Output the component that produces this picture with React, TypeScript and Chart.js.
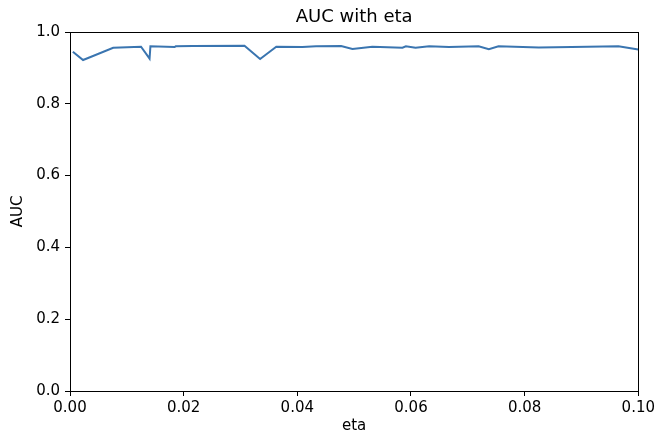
import React, { useEffect, useRef } from "react";
import { Chart, registerables } from "chart.js";

Chart.register(...registerables);

const etaValues = [
  0.0005, 0.0023, 0.0034, 0.0076, 0.0125, 0.0140, 0.01415, 0.0184, 0.0186, 0.0216,
  0.0307, 0.03345, 0.0363, 0.0409, 0.0433, 0.0477, 0.0497, 0.0532, 0.0585, 0.0591,
  0.0608, 0.0632, 0.0667, 0.0719, 0.0737, 0.0754, 0.0825, 0.0883, 0.0965, 0.1,
];
const aucValues = [
  0.945, 0.922, 0.929, 0.956, 0.959, 0.926, 0.960, 0.958, 0.960, 0.961,
  0.962, 0.925, 0.959, 0.958, 0.960, 0.961, 0.953, 0.959, 0.956, 0.960,
  0.956, 0.960, 0.958, 0.960, 0.952, 0.960, 0.957, 0.958, 0.960, 0.951,
];
const xTickStep = 0.02;
const yTickStep = 0.2;

const FONT = "'DejaVu Sans', sans-serif";

const framePlugin = {
  id: "frame",
  afterDatasetsDraw(chart: any) {
    const { ctx, chartArea } = chart;
    ctx.save();
    ctx.strokeStyle = "#000";
    ctx.lineWidth = 1;
    ctx.strokeRect(
      Math.round(chartArea.left) + 0.5,
      Math.round(chartArea.top) + 0.5,
      Math.round(chartArea.right - chartArea.left),
      Math.round(chartArea.bottom - chartArea.top)
    );
    ctx.restore();
  },
};

export default function App() {
  const ref = useRef<HTMLCanvasElement | null>(null);
  useEffect(() => {
    document.body.style.margin = "0";
    const canvas = ref.current;
    if (!canvas) return;
    const chart = new Chart(canvas, {
      type: "line",
      data: {
        datasets: [
          {
            data: etaValues.map((x, i) => ({ x, y: aucValues[i] })),
            borderColor: "#3a75b0",
            borderWidth: 2,
            pointRadius: 0,
            fill: false,
            tension: 0,
          },
        ],
      },
      options: {
        animation: false,
        responsive: false,
        devicePixelRatio: 1,
        layout: { padding: { left: 0, right: 18, top: 0, bottom: 0 } },
        plugins: {
          legend: { display: false },
          tooltip: { enabled: false },
          title: {
            display: true,
            fullSize: false,
            text: "AUC with eta",
            color: "#000",
            font: { family: FONT, size: 18, weight: "normal" },
            padding: { top: 7, bottom: 3.4 },
          },
        },
        scales: {
          x: {
            type: "linear",
            min: 0,
            max: 0.1,
            grid: { display: true, drawOnChartArea: false, drawTicks: true, tickLength: 5, color: "#000" },
            border: { display: true, color: "#000", width: 1 },
            ticks: {
              stepSize: xTickStep,
              color: "#000",
              font: { family: FONT, size: 15 },
              padding: 3,
              maxRotation: 0,
              callback: (v: any) => Number(v).toFixed(2),
            },
            title: {
              display: true,
              text: "eta",
              color: "#000",
              font: { family: FONT, size: 15 },
              padding: { top: 0, bottom: -4 },
            },
            afterFit: (s: any) => {
              s.height = 40;
            },
          },
          y: {
            type: "linear",
            min: 0,
            max: 1,
            grid: { display: true, drawOnChartArea: false, drawTicks: true, tickLength: 5, color: "#000" },
            border: { display: true, color: "#000", width: 1 },
            ticks: {
              stepSize: yTickStep,
              color: "#000",
              font: { family: FONT, size: 15 },
              padding: 5,
              callback: (v: any) => Number(v).toFixed(1),
            },
            title: {
              display: true,
              text: "AUC",
              color: "#000",
              font: { family: FONT, size: 15 },
              padding: { top: 9, bottom: 0 },
            },
            afterFit: (s: any) => {
              s.width = 70;
            },
          },
        },
      },
      plugins: [framePlugin],
    });
    return () => chart.destroy();
  }, []);
  return (
    <div style={{ width: 658, height: 431 }}>
      <canvas ref={ref} width={658} height={431} style={{ display: "block" }} />
    </div>
  );
}
